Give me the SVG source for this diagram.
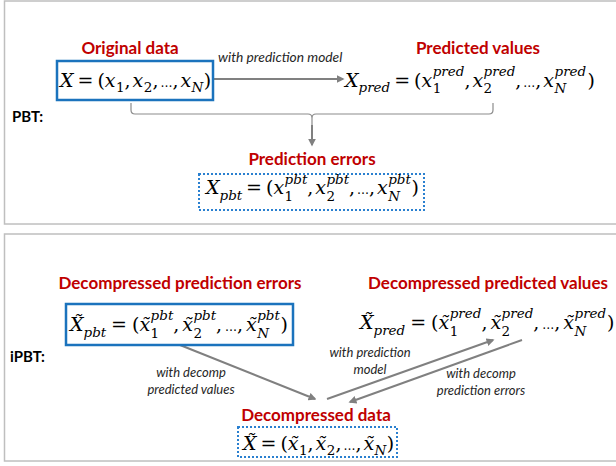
<svg xmlns="http://www.w3.org/2000/svg" width="616" height="466" viewBox="0 0 616 466">
<defs>
<style>
.panel{fill:#fff;stroke:#bfbfbf;stroke-width:1.5}
.m{font-family:"DejaVu Serif",serif;font-style:italic;font-size:19px;fill:#000}
.u{font-style:normal}
.s{font-size:13.5px}
.e{font-style:normal;font-size:12px}
.t{font-family:Lato,"Liberation Sans",sans-serif;font-weight:bold;font-size:17px;fill:#c00000;text-anchor:middle}
.l{font-family:Lato,"Liberation Sans",sans-serif;font-style:italic;font-size:13.8px;fill:#262626}
.lc{text-anchor:middle;font-size:13px}
.k{font-family:Lato,"Liberation Sans",sans-serif;font-weight:bold;font-size:15px;fill:#000}
.box{fill:#fff;stroke:#1b73bd;stroke-width:2.5}
.dot{fill:#fff;stroke:#2a80d0;stroke-width:2;stroke-dasharray:2 2}
.c{fill:none;stroke:#808080;stroke-width:2}
.br{fill:none;stroke:#8c8c8c;stroke-width:1.2}
</style>
<marker id="ah" viewBox="0 0 10 10" refX="8" refY="5" markerWidth="4" markerHeight="4" orient="auto" markerUnits="strokeWidth">
<path d="M0,0 L10,5 L0,10 z" fill="#808080"/>
</marker>
</defs>
<rect class="panel" x="4.5" y="1" width="640" height="223"/>
<rect class="panel" x="4.5" y="234" width="640" height="227"/>
<text class="k" x="12" y="122">PBT:</text>
<text class="k" x="10" y="362">iPBT:</text>

<g id="connectors">
<line class="c" x1="213" y1="79" x2="343" y2="79" marker-end="url(#ah)"/>
<text class="l" x="218" y="62">with prediction model</text>
<path class="br" d="M131,103 L131,110 Q131,114 135,114 L308,114 Q312,114 312,118 L312,125 M312,118 Q312,114 316,114 L489,114 Q493,114 493,110 L493,103"/>
<line class="c" x1="312" y1="125" x2="312" y2="145" marker-end="url(#ah)"/>
<line class="c" x1="180" y1="345" x2="315" y2="399" marker-end="url(#ah)"/>
<line class="c" x1="327" y1="399" x2="493" y2="340" marker-end="url(#ah)"/>
<line class="c" x1="522" y1="340" x2="350" y2="402" marker-end="url(#ah)"/>
<text class="l lc" x="191" y="377">with decomp</text>
<text class="l lc" x="191" y="394">predicted values</text>
<text class="l lc" x="370" y="357">with prediction</text>
<text class="l lc" x="370" y="374">model</text>
<text class="l lc" x="481" y="378">with decomp</text>
<text class="l lc" x="481" y="395">prediction errors</text>
</g>

<g id="original">
<text class="t" x="130" y="54">Original data</text>
<rect class="box" x="57" y="61" width="156" height="39"/>
<text class="m" y="87"><tspan x="60">X</tspan><tspan x="77.5" class="u">=</tspan><tspan x="97.4" class="u">(</tspan><tspan x="104.8">x</tspan><tspan x="116" y="92" class="s u">1</tspan><tspan x="124.6" y="87" class="u">,</tspan><tspan x="132.6">x</tspan><tspan x="143.8" y="92" class="s u">2</tspan><tspan x="152.4" y="87" class="u">,</tspan><tspan x="160.4" class="e">…</tspan><tspan x="172.4" class="u">,</tspan><tspan x="180.4">x</tspan><tspan x="191.6" y="92" class="s">N</tspan><tspan x="203.8" y="87" class="u">)</tspan></text>
</g>

<g id="predicted">
<text class="t" x="478" y="54">Predicted values</text>
<text class="m" y="87"><tspan x="345">X</tspan><tspan x="358.5" y="92" class="s">pred</tspan><tspan x="394.2" y="87" class="u">=</tspan><tspan x="414.1" class="u">(</tspan><tspan x="421.5">x</tspan><tspan x="432.7" y="76" class="s">pred</tspan><tspan x="432.7" y="93" class="s u">1</tspan><tspan x="464.4" y="87" class="u">,</tspan><tspan x="472.4">x</tspan><tspan x="483.6" y="76" class="s">pred</tspan><tspan x="483.6" y="93" class="s u">2</tspan><tspan x="515.3" y="87" class="u">,</tspan><tspan x="523.3" class="e">…</tspan><tspan x="535.3" class="u">,</tspan><tspan x="543.3">x</tspan><tspan x="554.5" y="76" class="s">pred</tspan><tspan x="554.5" y="93" class="s">N</tspan><tspan x="587.5" y="87" class="u">)</tspan></text>
</g>

<g id="errors">
<text class="t" x="312" y="165">Prediction errors</text>
<rect class="dot" x="199" y="174" width="225" height="36"/>
<text class="m" y="194"><tspan x="206">X</tspan><tspan x="219.5" y="200" class="s">pbt</tspan><tspan x="246.1" y="194" class="u">=</tspan><tspan x="266" class="u">(</tspan><tspan x="273.4">x</tspan><tspan x="284.6" y="184" class="s">pbt</tspan><tspan x="284.6" y="201" class="s u">1</tspan><tspan x="307.2" y="194" class="u">,</tspan><tspan x="315.2">x</tspan><tspan x="326.4" y="184" class="s">pbt</tspan><tspan x="326.4" y="201" class="s u">2</tspan><tspan x="349" y="194" class="u">,</tspan><tspan x="357" class="e">…</tspan><tspan x="369" class="u">,</tspan><tspan x="377">x</tspan><tspan x="388.2" y="184" class="s">pbt</tspan><tspan x="388.2" y="201" class="s">N</tspan><tspan x="411.5" y="194" class="u">)</tspan></text>
</g>

<g id="decomp-errors">
<text class="t" x="180" y="289">Decompressed prediction errors</text>
<rect class="box" x="66" y="304" width="227" height="41"/>
<text class="m" y="331"><tspan x="70">X&#x303;</tspan><tspan x="83.5" y="337" class="s">pbt</tspan><tspan x="111.1" y="331" class="u">=</tspan><tspan x="132" class="u">(</tspan><tspan x="139.4">x&#x303;</tspan><tspan x="150.6" y="320" class="s">pbt</tspan><tspan x="150.6" y="338" class="s u">1</tspan><tspan x="173.2" y="331" class="u">,</tspan><tspan x="182.2">x&#x303;</tspan><tspan x="193.4" y="320" class="s">pbt</tspan><tspan x="193.4" y="338" class="s u">2</tspan><tspan x="216" y="331" class="u">,</tspan><tspan x="225" class="e">…</tspan><tspan x="237" class="u">,</tspan><tspan x="246">x&#x303;</tspan><tspan x="257.2" y="320" class="s">pbt</tspan><tspan x="257.2" y="338" class="s">N</tspan><tspan x="280.5" y="331" class="u">)</tspan></text>
</g>

<g id="decomp-predicted">
<text class="t" x="488" y="289">Decompressed predicted values</text>
<text class="m" y="329"><tspan x="360">X&#x303;</tspan><tspan x="373.5" y="335" class="s">pred</tspan><tspan x="410.2" y="329" class="u">=</tspan><tspan x="431.1" class="u">(</tspan><tspan x="438.5">x&#x303;</tspan><tspan x="449.7" y="318" class="s">pred</tspan><tspan x="449.7" y="336" class="s u">1</tspan><tspan x="481.4" y="329" class="u">,</tspan><tspan x="490.4">x&#x303;</tspan><tspan x="501.6" y="318" class="s">pred</tspan><tspan x="501.6" y="336" class="s u">2</tspan><tspan x="533.3" y="329" class="u">,</tspan><tspan x="542.3" class="e">…</tspan><tspan x="554.3" class="u">,</tspan><tspan x="563.3">x&#x303;</tspan><tspan x="574.5" y="318" class="s">pred</tspan><tspan x="574.5" y="336" class="s">N</tspan><tspan x="607" y="329" class="u">)</tspan></text>
</g>

<g id="decomp-data">
<text class="t" x="316" y="421">Decompressed data</text>
<rect class="dot" x="238" y="427" width="159" height="30"/>
<text class="m" y="450"><tspan x="243">X&#x303;</tspan><tspan x="260.5" class="u">=</tspan><tspan x="280.4" class="u">(</tspan><tspan x="287.8">x&#x303;</tspan><tspan x="299" y="455" class="s u">1</tspan><tspan x="307.6" y="450" class="u">,</tspan><tspan x="315.6">x&#x303;</tspan><tspan x="326.8" y="455" class="s u">2</tspan><tspan x="335.4" y="450" class="u">,</tspan><tspan x="343.4" class="e">…</tspan><tspan x="355.4" class="u">,</tspan><tspan x="363.4">x&#x303;</tspan><tspan x="374.6" y="455" class="s">N</tspan><tspan x="386.8" y="450" class="u">)</tspan></text>
</g>
</svg>
